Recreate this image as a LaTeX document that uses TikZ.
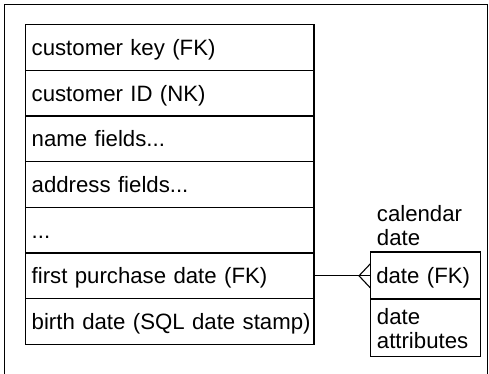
\documentclass[tikz,border=0pt]{standalone}
\usepackage{fontspec}
\setmainfont{Liberation Sans}
\usetikzlibrary{positioning,calc}
\begin{document}
\begin{tikzpicture}[x=1pt,y=-1pt,
  every node/.style={font=\fontsize{22.2}{24}\selectfont},
  row/.style={draw,line width=1.1pt,rectangle,anchor=north west,outer sep=0pt,
    inner xsep=6pt,inner ysep=0pt,text width=#1,align=left,
    text height=16pt,text depth=0pt,minimum height=45.66pt},
  row/.default=276.3pt,
  txt/.style={anchor=base west,inner sep=0pt},
  conn/.style={line width=1.1pt}]
\useasboundingbox (0,0) rectangle (489,373);
\draw[line width=1pt] (4,380) -- (4,4) -- (487.3,4) -- (487.3,380);
% customer table
\node[row] (r1) at (25.7,24.7) {customer key (FK)};
\node[row,below=0pt of r1.south west,anchor=north west] (r2) {customer ID (NK)};
\node[row,below=0pt of r2.south west,anchor=north west] (r3) {name fields...};
\node[row,below=0pt of r3.south west,anchor=north west] (r4) {address fields...};
\node[row,below=0pt of r4.south west,anchor=north west] (r5) {...};
\node[row,below=0pt of r5.south west,anchor=north west] (r6) {first purchase date (FK)};
\node[row,below=0pt of r6.south west,anchor=north west] (r7) {\mbox{birth date (SQL date stamp)}};
% calendar date table
\node[txt] (cal1) at (376.7,221) {calendar};
\node[txt] (cal2) at (376.7,245) {date};
\node[row=98pt,minimum height=47pt] (d1) at (370.3,252) {date (FK)};
\node[draw,line width=1.1pt,rectangle,anchor=north west,outer sep=0pt,inner sep=0pt,
  minimum width=110pt,minimum height=57.7pt] (d2) at (d1.south west) {};
\node[txt] (a1) at (376.7,324.3) {date};
\node[txt] (a2) at (376.7,348.3) {attributes};
% connector with crow's foot
\coordinate (cf) at ($(r6.east -| d1.west)+(-11.3,0)$);
\coordinate (cfu) at ($(r6.east -| d1.west)+(0,-12)$);
\coordinate (cfd) at ($(r6.east -| d1.west)+(0,12)$);
\draw[conn] (r6.east) -- (r6.east -| d1.west);
\draw[conn] (cfu) -- (cf) -- (cfd);
\end{tikzpicture}
\end{document}
